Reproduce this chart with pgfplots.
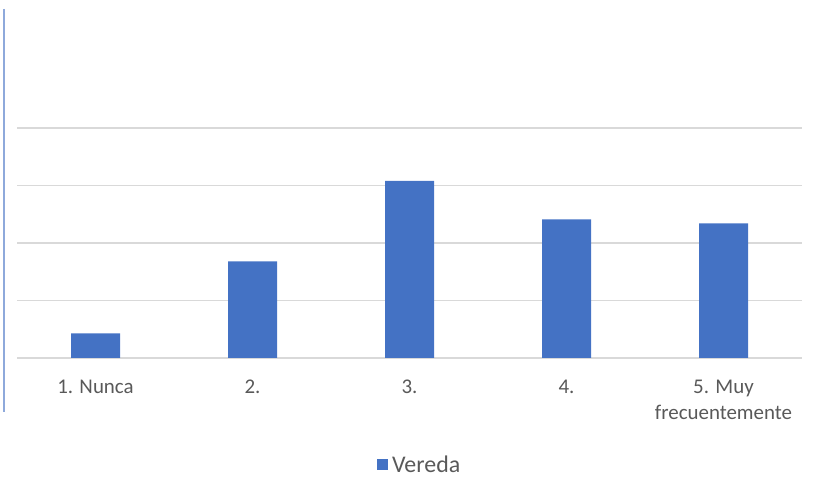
\documentclass[border=0pt]{standalone}
\usepackage{pgfplots}
\pgfplotsset{compat=1.18}
\usepackage{fontspec}
\setmainfont{Carlito}
\definecolor{barblue}{HTML}{4472C4}
\definecolor{gridgray}{HTML}{D9D9D9}
\definecolor{txtgray}{HTML}{595959}
\definecolor{sideblue}{HTML}{8EA9DB}
\begin{document}
\begin{tikzpicture}
\useasboundingbox (0,0) rectangle (821bp,477bp);
\draw[sideblue, line width=1.6bp] (4bp,477bp-9bp) -- (4bp,477bp-412bp);
\begin{axis}[
  at={(17bp,119bp)}, anchor=south west,
  scale only axis, width=785bp, height=230bp,
  xmin=0.5, xmax=5.5, ymin=0, ymax=4,
  axis line style={draw=none},
  ytick={0,1,2,3,4}, yticklabels={},
  ymajorgrids, grid style={gridgray, line width=1.3bp},
  major tick length=0pt,
  xtick={1,2,3,4,5},
  xticklabels={1. Nunca, 2., 3., 4., {5. Muy\\frecuentemente}},
  xticklabel style={font=\fontsize{21}{26.5}\selectfont, text=txtgray, align=center, anchor=north, yshift=-18.5bp},
  ybar, bar width=49bp,
  legend style={at={(0.513,-0.465)}, anchor=center, draw=none, fill=none,
    font=\fontsize{24}{26}\selectfont, text=txtgray},
  legend image code/.code={\fill[barblue] (0bp,-5.5bp) rectangle (11bp,5.5bp);},
]
\addplot[fill=barblue, draw=none] coordinates {(1,0.43) (2,1.68) (3,3.08) (4,2.41) (5,2.34)};
\addlegendentry{\hspace{2bp}Vereda}
\end{axis}
\end{tikzpicture}
\end{document}
